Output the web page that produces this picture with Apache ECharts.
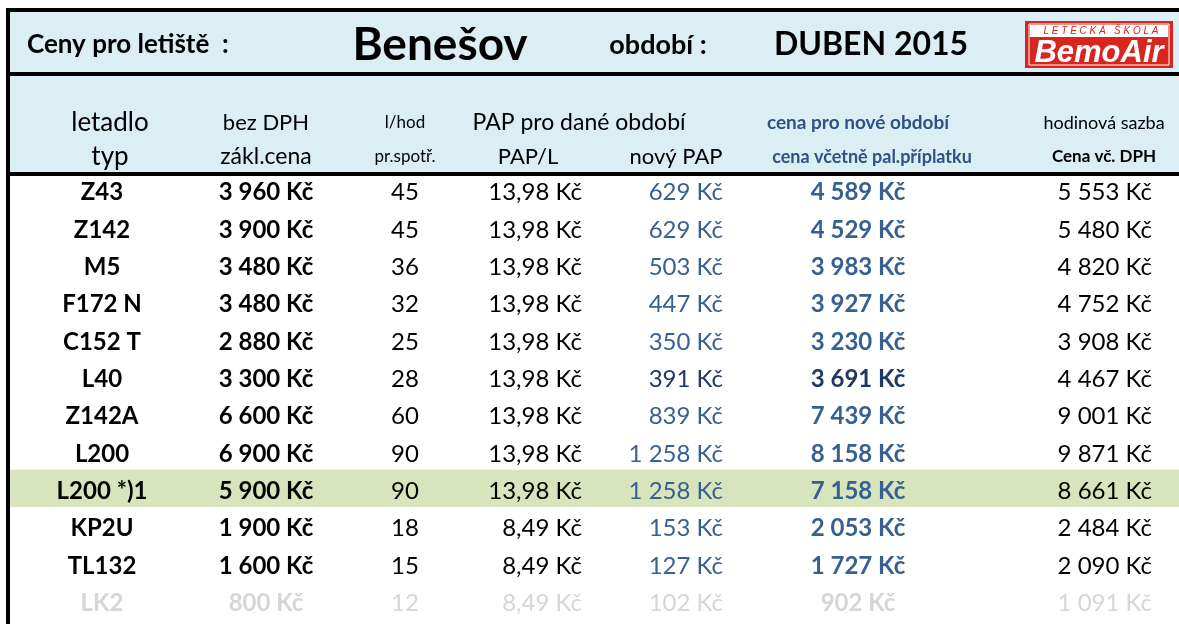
<!DOCTYPE html>
<html>
<head>
<meta charset="utf-8">
<script src="https://cdn.jsdelivr.net/npm/echarts@6/dist/echarts.min.js"></script>
<style>
  html, body { margin: 0; padding: 0; background: #fff; }
  #main { width: 1179px; height: 624px; }
</style>
</head>
<body>
<div id="main"></div>
<script>
// data from the price list
var letadla = ['Z43', 'Z142', 'M5', 'F172 N', 'C152 T', 'L40', 'Z142A', 'L200', 'L200 *)1', 'KP2U', 'TL132', 'LK2'];
var bezDph = [3960, 3900, 3480, 3480, 2880, 3300, 6600, 6900, 5900, 1900, 1600, 800];
var spotreba = [45, 45, 36, 32, 25, 28, 60, 90, 90, 18, 15, 12];
var papL = [13.98, 13.98, 13.98, 13.98, 13.98, 13.98, 13.98, 13.98, 13.98, 8.49, 8.49, 8.49];
var novyPap = [629, 629, 503, 447, 350, 391, 839, 1258, 1258, 153, 127, 102];
var cenaNova = [4589, 4529, 3983, 3927, 3230, 3691, 7439, 8158, 7158, 2053, 1727, 902];
var cenaDph = [5553, 5480, 4820, 4752, 3908, 4467, 9001, 9871, 8661, 2484, 2090, 1091];
var zvyraznenyRadek = 8;   // L200 *)1
var sedyRadek = 11;        // LK2
var tmavyRadek = 5;        // L40

var FONT = 'Lato, "Noto Sans", sans-serif';
var MODRA = '#376092';

function kc(v) {
  return String(v).replace(/\B(?=(\d{3})+(?!\d))/g, ' ') + ' Kč';
}
function kcDes(v) {
  return v.toFixed(2).replace('.', ',') + ' Kč';
}

// one column of the table = one scatter series with labels only
function sloupec(values, x, fmt, align, bold, color) {
  return {
    type: 'scatter',
    symbolSize: 1,
    itemStyle: { color: 'rgba(0,0,0,0)', opacity: 1 },
    silent: true,
    z: 5,
    data: values.map(function (v, i) {
      var c = color;
      if (i === sedyRadek) c = '#D6D6D6';
      else if (i === tmavyRadek && color === MODRA) c = '#1F3864';
      return { value: [x, letadla[i], v], label: { color: c } };
    }),
    label: {
      show: true,
      position: 'inside',
      align: align,
      verticalAlign: 'middle',
      offset: [0, 3],
      fontFamily: FONT,
      fontSize: 24,
      fontWeight: bold ? 'bold' : 'normal',
      textBorderWidth: 0,
      textBorderColor: 'transparent',
      formatter: function (p) { return fmt(p.value[2]); }
    }
  };
}

function txt(x, y, s, size, opts) {
  opts = opts || {};
  return {
    type: 'text', x: x, y: y, z: 20,
    style: {
      text: s, fill: opts.color || '#000', font: (opts.italic ? 'italic ' : '') + (opts.bold ? 'bold ' : '') + size + 'px ' + (opts.family || FONT),
      textAlign: opts.align || 'center', textVerticalAlign: 'middle'
    }
  };
}

var myChart = echarts.init(document.getElementById('main'));

var option = {
  animation: false,
  backgroundColor: '#fff',
  grid: { left: 0, right: 0, top: 171, height: 448 },
  xAxis: { type: 'value', min: 0, max: 1179, show: false },
  yAxis: { type: 'category', data: letadla, inverse: true, show: false },
  series: [
    {
      type: 'bar',
      silent: true,
      barWidth: '100%',
      itemStyle: { color: '#D8E4BC' },
      z: 1,
      data: letadla.map(function (r, i) { return i === zvyraznenyRadek ? 1179 : '-'; })
    },
    sloupec(letadla, 102, function (v) { return v; }, 'center', true, '#000'),
    sloupec(bezDph, 266, kc, 'center', true, '#000'),
    sloupec(spotreba, 405, function (v) { return v; }, 'center', false, '#000'),
    sloupec(papL, 582, kcDes, 'right', false, '#000'),
    sloupec(novyPap, 723, kc, 'right', false, MODRA),
    sloupec(cenaNova, 858, kc, 'center', true, MODRA),
    sloupec(cenaDph, 1152, kc, 'right', false, '#000')
  ],
  graphic: [
    // header background and frame
    { type: 'rect', shape: { x: 10, y: 12, width: 1169, height: 162 }, style: { fill: '#DAEEF3' }, z: 2 },
    { type: 'rect', shape: { x: 0, y: 0, width: 1179, height: 8 }, style: { fill: '#fff' }, z: 2 },
    { type: 'rect', shape: { x: 6, y: 8, width: 1173, height: 4 }, style: { fill: '#000' }, z: 10 },
    { type: 'rect', shape: { x: 6, y: 72, width: 1173, height: 4 }, style: { fill: '#000' }, z: 10 },
    { type: 'rect', shape: { x: 6, y: 172, width: 1173, height: 4 }, style: { fill: '#000' }, z: 10 },
    { type: 'rect', shape: { x: 0, y: 0, width: 6, height: 624 }, style: { fill: '#fff' }, z: 10 },
    { type: 'rect', shape: { x: 6, y: 8, width: 4, height: 616 }, style: { fill: '#000' }, z: 10 },
    // header row 1
    txt(27, 45, 'Ceny pro letiště  :', 26, { bold: true, align: 'left' }),
    txt(440, 45, 'Benešov', 46, { bold: true }),
    txt(658, 45, 'období :', 27, { bold: true }),
    txt(871, 45, 'DUBEN 2015', 32, { bold: true }),
    // logo
    { type: 'rect', shape: { x: 1025, y: 21, width: 148, height: 47 }, style: { fill: '#D8261E' }, z: 15 },
    { type: 'rect', shape: { x: 1029, y: 24, width: 140, height: 41 }, style: { fill: 'none', stroke: '#fff', lineWidth: 1 }, z: 16 },
    { type: 'rect', shape: { x: 1030, y: 25, width: 138, height: 12 }, style: { fill: '#fff' }, z: 16 },
    txt(1101, 31.5, 'L E T E C K Á   Š K O L A', 10, { italic: true, color: '#D8261E', family: '"Liberation Sans", Arial, sans-serif' }),
    txt(1099, 53, 'BemoAir', 31, { bold: true, italic: true, color: '#fff', family: '"Liberation Sans", Arial, sans-serif' }),
    // header row 2
    txt(110, 123, 'letadlo', 26),
    txt(110, 157, 'typ', 26),
    txt(266, 123, 'bez DPH', 22),
    txt(266, 157, 'zákl.cena', 23),
    txt(405, 123, 'l/hod', 17),
    txt(405, 157, 'pr.spotř.', 17),
    txt(579, 123, 'PAP pro dané období', 23),
    txt(528, 157, 'PAP/L', 22),
    txt(676, 157, 'nový PAP', 22),
    txt(858, 123, 'cena pro nové období', 19, { bold: true, color: '#2E5187' }),
    txt(872, 157, 'cena včetně pal.příplatku', 18, { bold: true, color: '#2E5187' }),
    txt(1104, 123, 'hodinová sazba', 18),
    txt(1104, 157, 'Cena vč. DPH', 17, { bold: true })
  ]
};
myChart.setOption(option);
</script>
</body>
</html>
